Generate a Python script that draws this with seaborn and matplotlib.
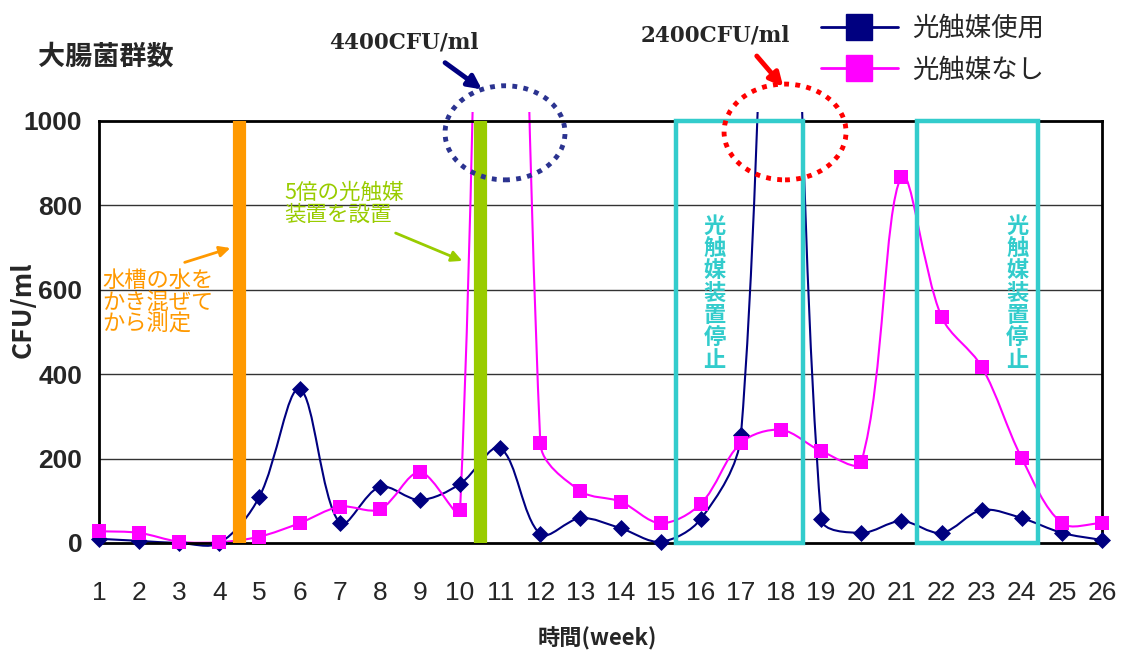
import numpy as np
import pandas as pd
import matplotlib
matplotlib.use("Agg")
import matplotlib.pyplot as plt
import seaborn as sns
from matplotlib import font_manager
from matplotlib.path import Path
from matplotlib.patches import PathPatch, Ellipse, Rectangle
from matplotlib.lines import Line2D
from matplotlib.transforms import Bbox, TransformedBbox

# data (CFU/ml per week)
weeks = list(range(1, 27))
with_catalyst = [10, 5, 0, 0, 110, 365, 47, 133, 102, 140, 225, 21, 59,
                 35, 3, 57, 255, 2400, 58, 24, 52, 24, 78, 59, 24, 7]
without_catalyst = [28, 24, 3, 2, 15, 47, 86, 80, 168, 78, 4400, 237, 123,
                    98, 47, 93, 237, 268, 218, 192, 868, 536, 418, 201, 47, 47]
series_labels = ["光触媒使用", "光触媒なし"]
y_ticks = [0, 200, 400, 600, 800, 1000]

# annotations
stop_periods = [(15.38, 18.55), (21.4, 24.4)]
stop_text = "光触媒装置停止"
stir_week = 4.5
install_week = 10.5
stir_lines = ["水槽の水を", "かき混ぜて", "から測定"]
install_lines = ["5倍の光触媒", "装置を設置"]

NAVY = "#000080"
MAGENTA = "#FF00FF"
ORANGE = "#FF9900"
GREEN = "#99CC00"
CYAN = "#33CCCC"

sns.set_theme(style="white")
plt.rcParams["font.family"] = ["Noto Sans CJK JP", "DejaVu Sans"]

names = {f.name for f in font_manager.fontManager.ttflist}
NARROW = "Liberation Sans Narrow" if "Liberation Sans Narrow" in names else "Liberation Sans"

fig = plt.figure(figsize=(11.23, 6.5), dpi=100)
ax = fig.add_axes([99 / 1123, 107 / 650, 1003 / 1123, 422 / 650])
ax.set_xlim(1, 26)
ax.set_ylim(0, 1000)


def smooth_path(xs, ys, tension=1 / 3):
    # Excel-like smoothed line: bezier segments built in screen space
    pts = ax.transData.transform(np.column_stack([xs, ys]))
    n = len(pts)
    verts = [pts[0]]
    codes = [Path.MOVETO]
    for i in range(n - 1):
        p0 = pts[i - 1] if i > 0 else pts[i]
        p1 = pts[i]
        p2 = pts[i + 1]
        p3 = pts[i + 2] if i + 2 < n else pts[i + 1]
        d01 = np.hypot(*(p1 - p0))
        d12 = np.hypot(*(p2 - p1))
        d23 = np.hypot(*(p3 - p2))
        a = d12 / (d01 + d12) if d01 + d12 > 0 else 0
        b = d12 / (d12 + d23) if d12 + d23 > 0 else 0
        verts += [p1 + (p2 - p0) * a * tension, p2 - (p3 - p1) * b * tension, p2]
        codes += [Path.CURVE4] * 3
    verts = ax.transData.inverted().transform(np.array(verts))
    return Path(verts, codes)


clip = TransformedBbox(Bbox([[0, -0.02], [1, 1.021]]), ax.transAxes)

df = pd.DataFrame({"week": weeks * 2,
                   "cfu": with_catalyst + without_catalyst,
                   "series": [series_labels[0]] * 26 + [series_labels[1]] * 26})

for label, values, color, marker, size in [
    (series_labels[0], with_catalyst, NAVY, "D", 75),
    (series_labels[1], without_catalyst, MAGENTA, "s", 110),
]:
    patch = PathPatch(smooth_path(weeks, values), fill=False, edgecolor=color,
                      lw=1.5, zorder=2)
    ax.add_patch(patch)
    patch.set_clip_path(None)
    patch.set_clip_box(clip)
    sub = df[(df["series"] == label) & (df["cfu"] <= 1000)]
    sns.scatterplot(data=sub, x="week", y="cfu", marker=marker, color=color,
                    s=size, linewidth=0, ax=ax, clip_on=False, zorder=3,
                    legend=False)

# grid, frame, ticks
for v in y_ticks[1:-1]:
    ax.axhline(v, color="#333333", lw=1.0, zorder=1)
for sp in ax.spines.values():
    sp.set_color("black")
    sp.set_linewidth(2)
ax.set_yticks(y_ticks)
ax.set_xticks(weeks)
ax.tick_params(axis="y", length=0, pad=12)
ax.tick_params(axis="x", direction="in", length=6, width=1, color="black",
               pad=27)
for t in ax.get_yticklabels():
    t.set_fontfamily(NARROW)
    t.set_fontweight("bold")
    t.set_fontsize(19)
for t in ax.get_xticklabels():
    t.set_fontfamily(NARROW)
    t.set_fontsize(19)

ax.set_xlabel("時間(week)", fontsize=16, fontweight="bold")
ax.xaxis.set_label_coords(0.4965, -0.20)
ax.set_ylabel("CFU/ml", fontsize=19, fontweight="bold")
ax.yaxis.set_label_coords(-0.062, 0.552)

# event bars
ax.axvline(stir_week, color=ORANGE, lw=9.5, zorder=4)
ax.axvline(install_week, color=GREEN, lw=9.5, zorder=4)

# photocatalyst stopped periods
for (x0, x1), xc in zip(stop_periods, [16.34, 23.89]):
    ax.add_patch(Rectangle((x0, 0), x1 - x0, 1000, fill=False, edgecolor=CYAN,
                           lw=3.2, zorder=5, clip_on=False))
    for i, ch in enumerate(stop_text):
        ax.text(xc, 751 - i * 53, ch, color=CYAN, fontsize=16,
                fontweight="bold", ha="center", va="center", zorder=5)

# text notes and arrows
for i, line in enumerate(stir_lines):
    ax.text(1.08, 621 - i * 50, line, color=ORANGE, fontsize=16,
            ha="left", va="center")
ax.annotate("", xy=(4.34, 701), xytext=(3.07, 663),
            arrowprops=dict(arrowstyle="-|>", color=ORANGE, lw=2,
                            mutation_scale=16))
for i, line in enumerate(install_lines):
    ax.text(5.62, 830 - i * 52, line, color=GREEN, fontsize=15.5,
            ha="left", va="center")
ax.annotate("", xy=(10.12, 666), xytext=(8.33, 737),
            arrowprops=dict(arrowstyle="-|>", color=GREEN, lw=2,
                            mutation_scale=16))

ax.add_patch(Ellipse((11.12, 972), 2.99, 223, fill=False, edgecolor="#2B3390",
                     lw=3.5, ls=(0, (1, 1.3)), clip_on=False, zorder=6))
ax.add_patch(Ellipse((18.1, 974), 3.04, 227, fill=False, edgecolor="#FF0000",
                     lw=3.5, ls=(0, (1, 1.3)), clip_on=False, zorder=6))

ax.annotate("4400CFU/ml", xy=(8.6, 1185), ha="center", va="center",
            fontsize=15.5, fontweight="bold", family="DejaVu Serif",
            annotation_clip=False)
ax.annotate("", xy=(10.6, 1071), xytext=(9.57, 1142), annotation_clip=False,
            arrowprops=dict(arrowstyle="-|>", color=NAVY, lw=3.5,
                            mutation_scale=20))
ax.annotate("2400CFU/ml", xy=(16.35, 1202), ha="center", va="center",
            fontsize=15.5, fontweight="bold", family="DejaVu Serif",
            annotation_clip=False)
ax.annotate("", xy=(18.1, 1076), xytext=(17.35, 1159), annotation_clip=False,
            arrowprops=dict(arrowstyle="-|>", color="#FF0000", lw=3.5,
                            mutation_scale=20))

fig.text(106 / 1123, 1 - 57 / 650, "大腸菌群数", fontsize=19.5, fontweight="bold",
         ha="center", va="center")

handles = [Line2D([], [], color=NAVY, lw=2, marker="s", markersize=19),
           Line2D([], [], color=MAGENTA, lw=2, marker="s", markersize=19)]
ax.legend(handles, series_labels, loc="upper left",
          bbox_to_anchor=(821 / 1123, 1 - 15 / 650),
          bbox_transform=fig.transFigure, frameon=False, fontsize=19,
          handlelength=2.9, handletextpad=0.55, labelspacing=0.55,
          borderpad=0, borderaxespad=0)

fig.savefig("out.png", dpi=100)
